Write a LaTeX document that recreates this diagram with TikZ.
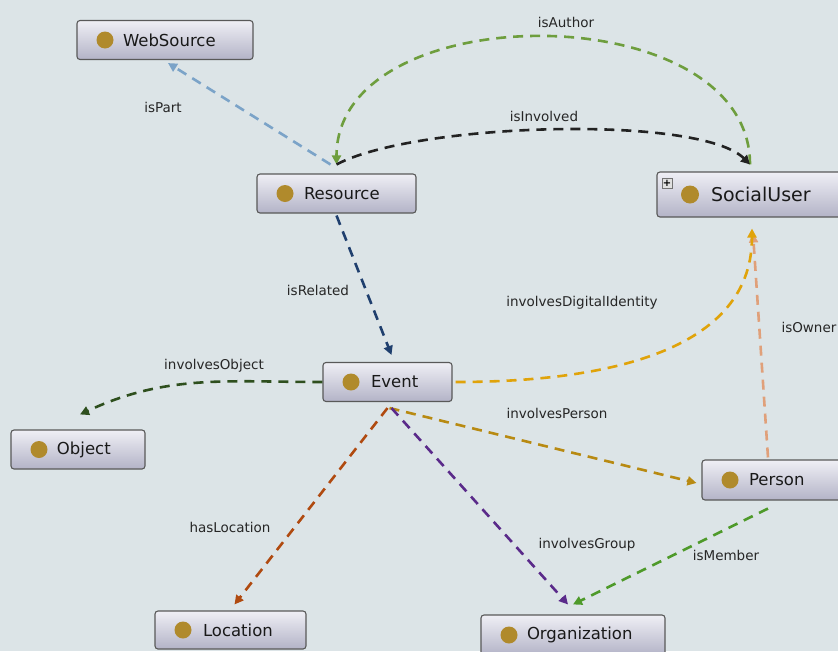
\documentclass[tikz,border=0pt]{standalone}
\usepackage{fontspec}
\setmainfont{DejaVu Sans}
\usetikzlibrary{arrows.meta}

\definecolor{bgcol}{HTML}{DCE4E7}
\definecolor{nodetop}{HTML}{EFEFF5}
\definecolor{nodebot}{HTML}{B3B3C7}
\definecolor{dotcol}{HTML}{B08A2C}
\definecolor{partcol}{HTML}{7BA3C8}
\definecolor{authorcol}{HTML}{6E9E3E}
\definecolor{involvedcol}{HTML}{222222}
\definecolor{relatedcol}{HTML}{1F3F6E}
\definecolor{digitalcol}{HTML}{E0A30A}
\definecolor{ownercol}{HTML}{E0A07A}
\definecolor{objectcol}{HTML}{2E4F1E}
\definecolor{personcol}{HTML}{B88A12}
\definecolor{locationcol}{HTML}{B04A10}
\definecolor{groupcol}{HTML}{5A2A8A}
\definecolor{membercol}{HTML}{4E9A2A}

\begin{document}
\begin{tikzpicture}[x=1pt, y=-1pt,
        cls/.style={draw=black!65, line width=1.1pt, rounded corners=3pt,
            top color=nodetop, bottom color=nodebot, minimum height=39pt,
            inner xsep=0pt, inner ysep=0pt, align=left, text=black!90,
            font=\fontsize{16.5}{19}\selectfont,
            path picture={\fill[dotcol] ([xshift=28pt]path picture bounding box.west) circle (8.5pt);}},
        plusbox/.style={draw=black!55, fill=black!12, minimum size=10pt, inner sep=0pt,
            font=\fontsize{10}{10}\selectfont\bfseries},
        lbl/.style={font=\fontsize{13.5}{16}\selectfont, text=black!85},
        link/.style={dash pattern=on 10pt off 7pt, line width=2.6pt,
            -{Triangle[length=9pt,width=9pt]}}]

        \clip (0,0) rectangle (838,651);
        \fill[bgcol] (0,0) rectangle (838,651);

        % classes
        \node[cls, text width=176pt] (web) at (165,40) {\hspace*{46pt}WebSource};
        \node[cls, text width=159pt] (res) at (336.5,193.5) {\hspace*{47pt}Resource};
        \node[cls, text width=200pt, minimum height=45pt, font=\fontsize{19}{22}\selectfont,
            path picture={\fill[dotcol] ([xshift=33pt]path picture bounding box.west) circle (9pt);}]
            (su) at (757,194.5) {\hspace*{54pt}SocialUser};
        \node[plusbox] (expand) at (667,183) {+};
        \node[cls, text width=129pt] (event) at (387.5,382) {\hspace*{48pt}Event};
        \node[cls, text width=134pt] (obj) at (78,449.5) {\hspace*{46pt}Object};
        \node[cls, text width=150pt, minimum height=40pt] (per) at (777,480) {\hspace*{47pt}Person};
        \node[cls, text width=151pt, minimum height=38pt] (loc) at (230.5,630) {\hspace*{48pt}Location};
        \node[cls, text width=184pt, minimum height=40pt] (org) at (573,635) {\hspace*{46pt}Organization};

        % properties
        \draw[link, partcol] ([xshift=-6pt,yshift=9pt]res.north) -- ([xshift=3pt,yshift=-3pt]web.south);
        \draw[link, authorcol] ([xshift=-7pt,yshift=7pt]su.north)
            .. controls +(0,-170) and +(0,-170) .. ([yshift=9pt]res.north);
        \draw[link, involvedcol] ([yshift=9pt]res.north)
            .. controls +(80,-42) and +(-50,-50) .. ([xshift=-7pt,yshift=7pt]su.north);
        \draw[link, relatedcol] ([yshift=-2pt]res.south) -- ([xshift=4pt,yshift=7pt]event.north);
        \draw[link, ownercol] ([xshift=-9pt,yshift=2pt]per.north) -- ([xshift=-4pt,yshift=-16pt]su.south);
        \draw[link, digitalcol] ([xshift=3pt]event.east) to[out=0, in=-90] ([xshift=-5pt,yshift=-11pt]su.south);
        \draw[link, objectcol] (event.west) to[out=180, in=25] ([xshift=2pt,yshift=15pt]obj.north);
        \draw[link, personcol] ([xshift=2pt,yshift=-6pt]event.south) -- ([xshift=-5pt,yshift=-3pt]per.west);
        \draw[link, locationcol] ([yshift=-6pt]event.south) -- ([xshift=4pt,yshift=6pt]loc.north);
        \draw[link, groupcol] ([xshift=4pt,yshift=-6pt]event.south) -- ([xshift=-5pt,yshift=10pt]org.north);
        \draw[link, membercol] ([xshift=-9pt,yshift=-8pt]per.south) -- ([yshift=10pt]org.north);

        % property names
        \node[lbl] (lpart) at (163,107) {isPart};
        \node[lbl] (lauthor) at (566,22) {isAuthor};
        \node[lbl] (linvolved) at (544,116) {isInvolved};
        \node[lbl] (lrelated) at (318,290) {isRelated};
        \node[lbl] (ldigital) at (582,303) {involvesDigitalIdentity};
        \node[lbl, anchor=west] (lowner) at (778,327) {isOwner};
        \node[lbl] (lobject) at (214,366) {involvesObject};
        \node[lbl] (lperson) at (557,413) {involvesPerson};
        \node[lbl] (llocation) at (230,527) {hasLocation};
        \node[lbl] (lgroup) at (587,545) {involvesGroup};
        \node[lbl] (lmember) at (726,555) {isMember};
\end{tikzpicture}
\end{document}
